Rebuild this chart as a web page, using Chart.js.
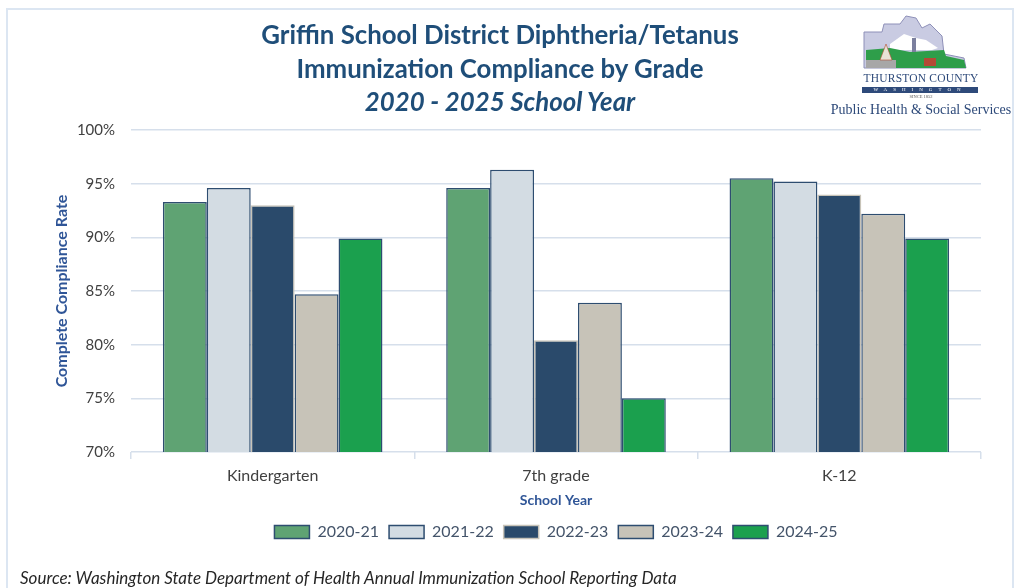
<!DOCTYPE html>
<html>
<head>
<meta charset="utf-8">
<script src="https://cdn.jsdelivr.net/npm/chart.js@4"></script>
<style>
  html, body { margin: 0; padding: 0; background: #fff; }
  #wrap { position: relative; width: 1020px; height: 588px; overflow: hidden; font-family: Lato, "DejaVu Sans", sans-serif; }
  #frame { position: absolute; left: 6px; top: 8px; width: 1008px; height: 590px; border: 2px solid #DCE6F2; box-sizing: border-box; }
  #chart { position: absolute; left: 0; top: 0; }
  .title { position: absolute; left: 150px; width: 700px; text-align: center; color: #1F4E79; font-weight: bold; font-size: 25.8px; }
  #source { position: absolute; left: 20px; top: 567px; font-style: italic; font-size: 17px; color: #262626; }
  #logo { position: absolute; left: 826px; top: 12px; width: 190px; height: 110px; text-align: center; font-family: "Liberation Serif", "DejaVu Serif", serif; }
</style>
</head>
<body>
<div id="wrap">
  <div id="frame"></div>
  <canvas id="chart" width="1020" height="588"></canvas>
  <div class="title" style="top:19px">Griffin School District Diphtheria/Tetanus</div>
  <div class="title" style="top:53px">Immunization Compliance by Grade</div>
  <div class="title" style="top:86px;font-style:italic">2020 - 2025 School Year</div>
  <div id="logo">
    <svg width="110" height="58" viewBox="0 0 110 58" style="position:absolute;left:34px;top:2px">
      <polygon points="4,18 22,18 24,10 40,10 46,2 56,4 62,14 70,10 82,22 84,40 104,44 106,54 4,54" fill="#C9CBE2" stroke="#8E90B8" stroke-width="1"/>
      <polygon points="30,30 44,20 56,24 66,26 78,34 72,36 30,36" fill="#FFFFFF"/>
      <polygon points="6,36 30,34 50,38 84,36 86,42 104,46 106,54 6,54" fill="#2E9E4A"/>
      <rect x="6" y="46" width="30" height="8" fill="#A7A7A7"/>
      <polygon points="20,46 26,30 32,46" fill="#E8E2D6" stroke="#B04B2F" stroke-width="0.6"/>
      <rect x="64" y="44" width="12" height="8" fill="#B44A35"/>
      <rect x="52" y="24" width="4" height="14" fill="#7B7F9E"/>
    </svg>
    <div style="position:absolute;left:0;top:60px;width:190px;font-size:11.5px;color:#2E4A7A;letter-spacing:0.2px">THURSTON COUNTY</div>
    <div style="position:absolute;left:36px;top:75px;width:116px;height:6px;background:#2E4A7A;color:#fff;font-size:5px;line-height:6px;letter-spacing:6px">WASHINGTON</div>
    <div style="position:absolute;left:0;top:82px;width:190px;font-size:4.5px;color:#555">SINCE 1852</div>
    <div style="position:absolute;left:0;top:90px;width:190px;font-size:14px;color:#2E4A7A">Public Health &amp; Social Services</div>
  </div>
  <div id="source">Source: Washington State Department of Health Annual Immunization School Reporting Data</div>
</div>
<script>
// data
const grades = ["Kindergarten", "7th grade", "K-12"];
const years = ["2020-21", "2021-22", "2022-23", "2023-24", "2024-25"];
const rate2020 = [93.3, 94.6, 95.5];
const rate2021 = [94.6, 96.3, 95.2];
const rate2022 = [93.0, 80.4, 94.0];
const rate2023 = [84.7, 83.9, 92.2];
const rate2024 = [89.9, 75.0, 89.9];
const yTicks = [70, 75, 80, 85, 90, 95, 100];

const fills = ["#5FA373", "#D3DCE3", "#2A4A6B", "#C7C3B8", "#1BA04E"];
const edges = ["#2E4D70", "#2E4D70", "#C7C3B8", "#2E4D70", "#2E4D70"];
const series = [rate2020, rate2021, rate2022, rate2023, rate2024];

const gridBlue = "#D6DFEB";
const textGrey = "#404040";
const titleBlue = "#2F5597";

// keep the legend centred under the plot area, as in the original
const legendUnderPlot = {
  id: "legendUnderPlot",
  afterLayout(chart) {
    const lg = chart.legend;
    if (lg) {
      lg.left = chart.chartArea.left;
      lg.right = chart.chartArea.right;
    }
  },
};

const ctx = document.getElementById("chart").getContext("2d");
const chart = new Chart(ctx, {
  type: "bar",
  data: {
    labels: grades,
    datasets: years.map((y, i) => ({
      label: y,
      data: series[i],
      backgroundColor: fills[i],
      borderColor: edges[i],
      borderWidth: 1.5,
      categoryPercentage: 0.775,
      barPercentage: 1.0,
    })),
  },
  options: {
    responsive: false,
    animation: false,
    layout: { padding: { left: 52, right: 39, top: 130, bottom: 38 } },
    plugins: {
      tooltip: { enabled: false },
      legend: {
        position: "bottom",
        labels: {
          boxWidth: 35,
          boxHeight: 13,
          padding: 10,
          color: "#44546A",
          font: { family: "Lato", size: 16 },
        },
      },
    },
    scales: {
      x: {
        grid: {
          display: true,
          drawOnChartArea: false,
          drawTicks: true,
          tickLength: 7,
          color: gridBlue,
          lineWidth: 1.5,
        },
        border: { display: false },
        ticks: { color: textGrey, font: { family: "Lato", size: 16 }, padding: 7 },
        title: {
          display: true,
          text: "School Year",
          color: titleBlue,
          font: { family: "Lato", size: 14, weight: "bold" },
          padding: { top: 0, bottom: 5 },
        },
      },
      y: {
        min: 70,
        max: 100,
        afterBuildTicks: (scale) => {
          scale.ticks = yTicks.map((v) => ({ value: v }));
        },
        afterFit: (scale) => {
          scale.width = 79;
        },
        grid: { color: gridBlue, lineWidth: 1.5, drawTicks: false },
        border: { display: false },
        ticks: {
          color: textGrey,
          padding: 16,
          font: { family: "Lato", size: 15 },
          callback: (v) => v + "%",
        },
        title: {
          display: true,
          text: "Complete Compliance Rate",
          color: titleBlue,
          font: { family: "Lato", size: 16, weight: "bold" },
          padding: { top: 0, bottom: 0 },
        },
      },
    },
  },
  plugins: [legendUnderPlot],
});
</script>
</body>
</html>
